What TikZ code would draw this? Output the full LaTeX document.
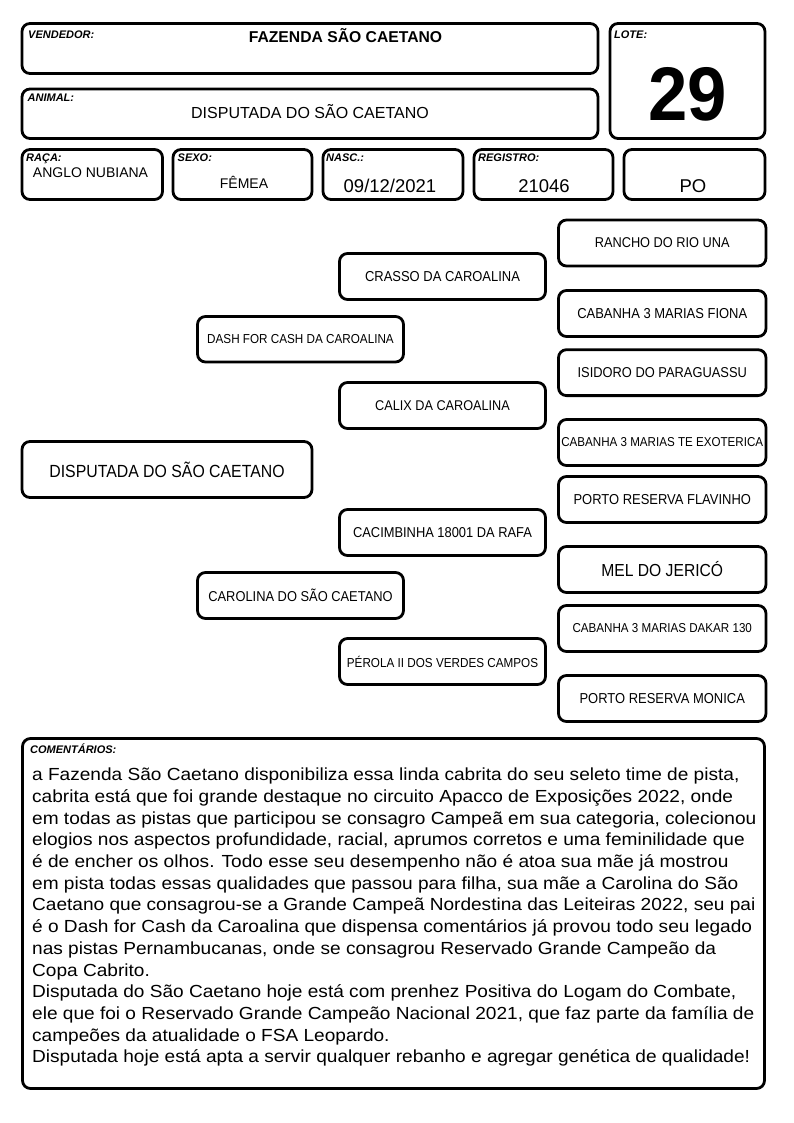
\documentclass[tikz,border=0pt]{standalone}
\usepackage{fontspec}
\setmainfont{Liberation Sans}
\newfontfamily\condfont[FakeStretch=0.9]{Liberation Sans}
\newfontfamily\widefont[FakeStretch=1.09]{Liberation Sans}
\newfontfamily\lotefont[FakeStretch=0.93]{Liberation Sans}
\newcommand\fsz[1]{\fontsize{#1}{#1}\selectfont}
\newcommand\pbox[7]{%
  \pgfmathsetmacro\cx{(#2+#4)/2}\pgfmathsetmacro\cy{(#3+#5)/2}%
  \pgfmathsetmacro\bw{#4-#2}\pgfmathsetmacro\bh{#5-#3}%
  \node[box, minimum width=\bw pt, minimum height=\bh pt, font=\condfont\fsz{#6}] (#1) at (\cx,\cy) {#7};}
\begin{document}
\begin{tikzpicture}[x=1pt,y=-1pt,
  box/.style={draw=black, line width=2.8pt, rounded corners=8pt, inner sep=0pt, align=center},
  lbl/.style={anchor=base west, inner sep=0pt, font=\fsz{11}\bfseries\itshape},
  val/.style={anchor=base, inner sep=0pt}]
\path[fill=white] (0,0) rectangle (794,1123);
\useasboundingbox (0,0) rectangle (794,1123);
% header
\pbox{vend}{22}{23.5}{598}{73.5}{10}{}
\pbox{lote}{610}{23.5}{765}{138.5}{10}{}
\pbox{animal}{22}{89}{598}{138.5}{10}{}
\pbox{raca}{22}{149.5}{162.5}{199.5}{10}{}
\pbox{sexo}{173}{149.5}{312}{199.5}{10}{}
\pbox{nasc}{323}{149.5}{463}{199.5}{10}{}
\pbox{reg}{474}{149.5}{613}{199.5}{10}{}
\pbox{po}{624}{149.5}{765}{199.5}{10}{}
\node[lbl] (lvend) at (28,39) {VENDEDOR:};
\node[lbl] (llote) at (614,39) {LOTE:};
\node[lbl] (lanimal) at (27.5,102) {ANIMAL:};
\node[lbl] (lraca) at (26,162) {RAÇA:};
\node[lbl] (lsexo) at (177.5,162) {SEXO:};
\node[lbl] (lnasc) at (326,162) {NASC.:};
\node[lbl] (lreg) at (478,162) {REGISTRO:};
\node[val, font=\fsz{15.7}\bfseries] (tvend) at (345.5,43) {FAZENDA SÃO CAETANO};
\node[val, font=\fsz{16}] (tanimal) at (310,119) {DISPUTADA DO SÃO CAETANO};
\node[val, font=\lotefont\fsz{76}\bfseries] (tlote) at (687.5,120.5) {29};
\node[val, font=\fsz{14}] (traca) at (90.5,178) {ANGLO NUBIANA};
\node[val, font=\fsz{14}] (tsexo) at (244,189) {FÊMEA};
\node[val, font=\fsz{18.5}] (tnasc) at (390,192.5) {09/12/2021};
\node[val, font=\fsz{18.5}] (treg) at (544,192.5) {21046};
\node[val, font=\fsz{18.5}] (tpo) at (693,193) {PO};
% pedigree
\pbox{main}{22}{441.5}{312}{497.5}{17.6}{DISPUTADA DO SÃO CAETANO}
\pbox{pai}{197.5}{316.5}{403.5}{362}{13}{DASH FOR CASH DA CAROALINA}
\pbox{mae}{197.5}{572.5}{403.5}{618.5}{14.3}{CAROLINA DO SÃO CAETANO}
\pbox{pp}{339.5}{253.5}{545.5}{299.5}{14.4}{CRASSO DA CAROALINA}
\pbox{pm}{339.5}{382.5}{545.5}{428.5}{14.1}{CALIX DA CAROALINA}
\pbox{mp}{339.5}{509.5}{545.5}{555.5}{14.3}{CACIMBINHA 18001 DA RAFA}
\pbox{mm}{339.5}{638.5}{545.5}{684.5}{13}{PÉROLA II DOS VERDES CAMPOS}
\pbox{ppp}{558.5}{220}{766}{266}{14.2}{RANCHO DO RIO UNA}
\pbox{ppm}{558.5}{290.5}{766}{336.5}{14.4}{CABANHA 3 MARIAS FIONA}
\pbox{pmp}{558.5}{349.7}{766}{395.6}{14.3}{ISIDORO DO PARAGUASSU}
\pbox{pmm}{558.5}{419.5}{766}{465.5}{12.9}{CABANHA 3 MARIAS TE EXOTERICA}
\pbox{mpp}{558.5}{476.5}{766}{522.5}{14.4}{PORTO RESERVA FLAVINHO}
\pbox{mpm}{558.5}{546.5}{766}{592.5}{17.4}{MEL DO JERICÓ}
\pbox{mmp}{558.5}{605.5}{766}{651.5}{12.9}{CABANHA 3 MARIAS DAKAR 130}
\pbox{mmm}{558.5}{675.5}{766}{721.5}{14.4}{PORTO RESERVA MONICA}
% comments
\pbox{coment}{22.5}{738.5}{764.5}{1088.5}{10}{}
\node[lbl] (lcoment) at (30,753) {COMENTÁRIOS:};
\node[anchor=north west, inner sep=0pt, align=left, font=\widefont\fontsize{17.5}{21.7}\selectfont] (tcoment) at (32,765.3) {\strut a Fazenda São Caetano disponibiliza essa linda cabrita do seu seleto time de pista,\\
cabrita está que foi grande destaque no circuito Apacco de Exposições 2022, onde\\
em todas as pistas que participou se consagro Campeã em sua categoria, colecionou\\
elogios nos aspectos profundidade, racial, aprumos corretos e uma feminilidade que\\
é de encher os olhos. Todo esse seu desempenho não é atoa sua mãe já mostrou\\
em pista todas essas qualidades que passou para filha, sua mãe a Carolina do São\\
Caetano que consagrou-se a Grande Campeã Nordestina das Leiteiras 2022, seu pai\\
é o Dash for Cash da Caroalina que dispensa comentários já provou todo seu legado\\
nas pistas Pernambucanas, onde se consagrou Reservado Grande Campeão da\\
Copa Cabrito.\\
Disputada do São Caetano hoje está com prenhez Positiva do Logam do Combate,\\
ele que foi o Reservado Grande Campeão Nacional 2021, que faz parte da família de\\
campeões da atualidade o FSA Leopardo.\\
Disputada hoje está apta a servir qualquer rebanho e agregar genética de qualidade!};
\end{tikzpicture}
\end{document}
